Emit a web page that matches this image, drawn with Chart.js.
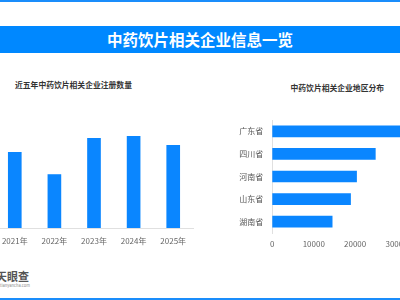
<!DOCTYPE html>
<html><head><meta charset="utf-8">
<script src="https://cdn.jsdelivr.net/npm/chart.js@4.4.1/dist/chart.umd.min.js"></script>
<style>
html,body{margin:0;padding:0;width:400px;height:300px;overflow:hidden;background:#fff;position:relative;font-family:"Noto Sans CJK SC","Noto Sans",sans-serif;}
.topline{position:absolute;left:0;top:0;width:400px;height:2px;background:#1a8dfb;}
.botline{position:absolute;left:0;top:298px;width:400px;height:2px;background:#1a8dfb;}
.banner{position:absolute;left:0;top:26px;width:400px;height:27px;background:#0088ff;color:#fff;font-weight:bold;font-size:15.5px;line-height:27px;text-align:center;}
.ctitle{position:absolute;font-weight:bold;font-size:7.8px;color:#333;white-space:nowrap;line-height:10px;}
.logo{position:absolute;left:-4px;top:270px;font-size:11px;font-weight:bold;color:#555;letter-spacing:0px;line-height:12px;}
.logosub{position:absolute;left:0px;top:283px;font-size:5px;color:#888;line-height:5px;transform:scale(0.8);transform-origin:left top;}
#c1{position:absolute;left:-6px;top:107px;}
#c2{position:absolute;left:230px;top:120px;}
</style></head>
<body>
<div class="topline"></div>
<div class="banner">中药饮片相关企业信息一览</div>
<div class="ctitle" style="left:15px;top:79.5px;">近五年中药饮片相关企业注册数量</div>
<div class="ctitle" style="left:290.5px;top:82.5px;">中药饮片相关企业地区分布</div>
<canvas id="c1" width="200" height="141"></canvas>
<canvas id="c2" width="208" height="133"></canvas>
<div class="logo">天眼查</div>
<div class="logosub">tianyancha.com</div>
<div class="botline"></div>
<script>
const years = ['2021年','2022年','2023年','2024年','2025年'];
const yearCounts = [7500, 5300, 8900, 9100, 8200];
const provinces = ['广东省','四川省','河南省','山东省','湖南省'];
const provinceCounts = [36000, 24870, 20340, 18890, 14450];
const regionTicks = [0, 10000, 20000, 30000, 40000];

const barColor = '#0a86ff';
const tickFont = {family:'"Noto Sans CJK SC","Noto Sans",sans-serif', size:8};

new Chart(document.getElementById('c1'), {
  type:'bar',
  data:{labels:years, datasets:[{data:yearCounts, backgroundColor:barColor, barThickness:13}]},
  options:{
    responsive:false, animation:false, devicePixelRatio:1,
    layout:{padding:0},
    plugins:{legend:{display:false}, tooltip:{enabled:false}, title:{display:false}},
    scales:{
      x:{grid:{display:false, drawTicks:false}, border:{display:true, color:'#e0e0e0'},
         ticks:{color:'#666', font:tickFont, padding:8, maxRotation:0},
         afterFit:s=>{s.height=20;}},
      y:{display:false, min:0, max:12000}
    }
  }
});

new Chart(document.getElementById('c2'), {
  type:'bar',
  data:{labels:provinces, datasets:[{data:provinceCounts, backgroundColor:barColor, barThickness:11}]},
  options:{
    indexAxis:'y', responsive:false, animation:false, devicePixelRatio:1,
    layout:{padding:0},
    plugins:{legend:{display:false}, tooltip:{enabled:false}, title:{display:false}},
    scales:{
      x:{min:0, max:40000, afterBuildTicks:s=>{s.ticks=regionTicks.map(v=>({value:v}));},
         grid:{display:false, drawTicks:false}, border:{display:false},
         ticks:{color:'#666', font:tickFont, padding:6, maxRotation:0, callback:v=>String(v)},
         afterFit:s=>{s.height=20; s.paddingLeft=0; s.paddingRight=0; s.paddingTop=0; s.paddingBottom=0;}},
      y:{grid:{display:false, drawTicks:false}, border:{display:true, color:'#e0e0e0'},
         ticks:{color:'#555', font:tickFont, padding:9},
         afterFit:s=>{s.width=42.3; s.paddingLeft=0; s.paddingRight=0; s.paddingTop=0; s.paddingBottom=0;}}
    }
  }
});
</script>
</body></html>
